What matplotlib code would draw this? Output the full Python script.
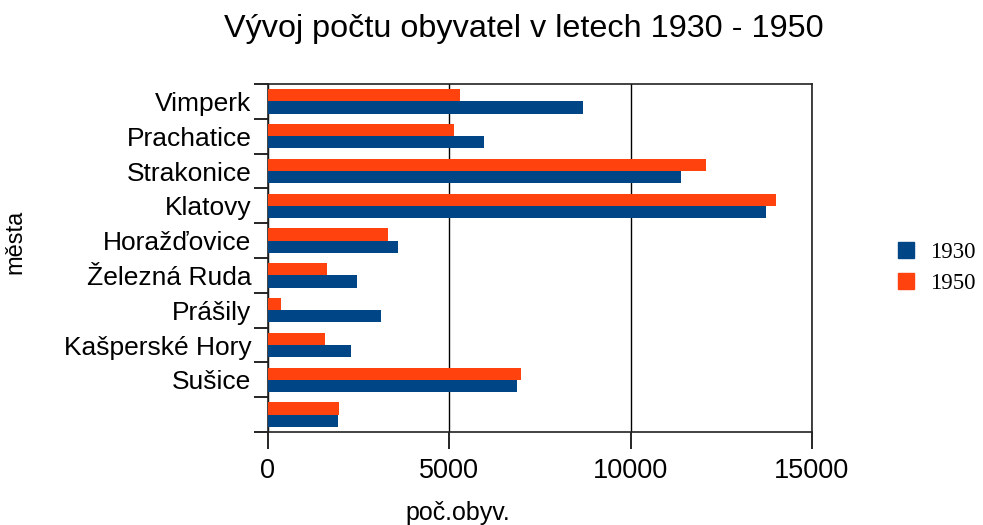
import matplotlib.pyplot as plt
from matplotlib.patches import Patch
import numpy as np

mesta = ['', 'Sušice', 'Kašperské Hory', 'Prášily', 'Železná Ruda',
         'Horažďovice', 'Klatovy', 'Strakonice', 'Prachatice', 'Vimperk']
obyv1930 = [1940, 6870, 2290, 3120, 2460, 3590, 13720, 11400, 5970, 8700]
obyv1950 = [1970, 6980, 1560, 360, 1640, 3320, 14020, 12070, 5130, 5300]

blue = '#004586'
orange = '#ff420e'

plt.rcParams['font.family'] = ['Liberation Sans', 'DejaVu Sans']

fig = plt.figure(figsize=(9.83, 5.25), dpi=100)
ax = fig.add_axes([0.2726, 0.177, 0.5534, 0.663])

y = np.arange(len(mesta))
h = 0.35
ax.barh(y - h / 2, obyv1930, height=h, color=blue, zorder=3)
ax.barh(y + h / 2, obyv1950, height=h, color=orange, zorder=3)

ax.set_xlim(0, 15000)
ax.set_ylim(-0.5, len(mesta) - 0.5)
ax.set_xticks([0, 5000, 10000, 15000])
ax.set_xticklabels(['0', '5000', '10000', '15000'], fontsize=19.5)
ax.set_yticks(y)
ax.set_yticklabels(mesta, fontsize=19)
ax.tick_params(axis='y', which='major', length=0, pad=12)
ax.set_yticks(np.arange(-0.5, len(mesta), 1.0), minor=True)
ax.tick_params(axis='y', which='minor', length=10, width=1.2, direction='out')
ax.tick_params(axis='x', length=12, width=1.2, direction='out', pad=7)
ax.grid(axis='x', color='black', linewidth=1, zorder=1)
for s in ax.spines.values():
    s.set_linewidth(1.2)
    s.set_color('#222222')

fig.text(0.533, 0.945, 'Vývoj počtu obyvatel v letech 1930 - 1950',
         ha='center', va='center', fontsize=23.3)
fig.text(0.466, 0.022, 'poč.obyv.', ha='center', va='center', fontsize=18)
fig.text(0.016, 0.54, 'města', ha='center', va='center', fontsize=17,
         rotation=90)

handles = [Patch(color=blue, label='1930'), Patch(color=orange, label='1950')]
fig.legend(handles=handles, loc='center left', bbox_to_anchor=(0.902, 0.49),
           frameon=False, prop={'family': 'Liberation Serif', 'size': 16.5},
           handlelength=0.7, handleheight=0.7, handletextpad=0.68,
           labelspacing=0.45, borderpad=0.0)

fig.savefig('out.png', dpi=100)
